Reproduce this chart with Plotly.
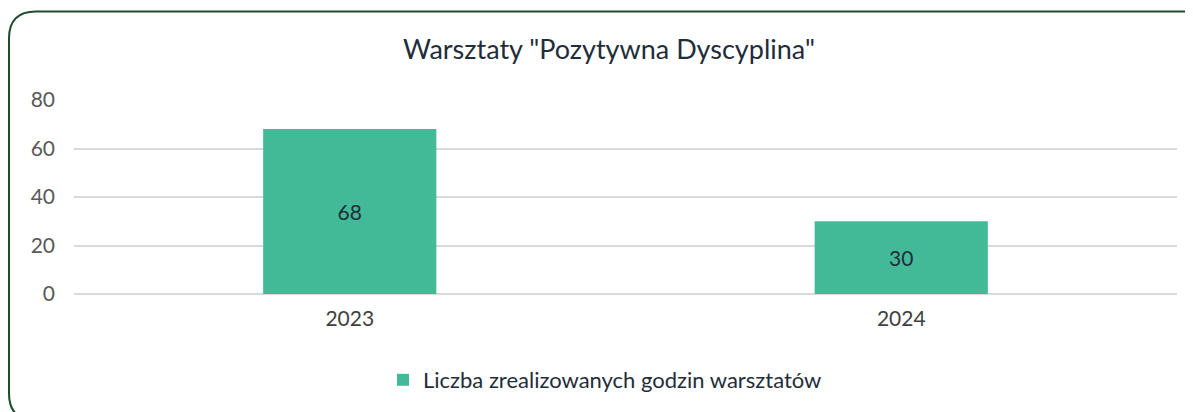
import plotly.graph_objects as go

categories = ["2023", "2024"]
values = [68, 30]
series_name = "Liczba zrealizowanych godzin warsztatów"
title_text = 'Warsztaty "Pozytywna Dyscyplina"'

OFF = 8  # page body margin
W, H = 1193 - OFF, 412 - OFF
L, T = 74 - OFF, 100 - OFF
R = W - (1177 - OFF)
B = H - (295 - OFF)
PW, PH = W - L - R, H - T - B

def px(x):
    # page pixel -> paper
    return (x - OFF - L) / PW

def py(y):
    return (H - B - (y - OFF)) / PH

FONT = "Lato, 'Open Sans', sans-serif"

fig = go.Figure()
fig.add_trace(go.Bar(
    x=categories, y=values, name=series_name,
    marker=dict(color="#43BA97", line=dict(width=0)),
    text=[str(v) for v in values], textposition="inside",
    insidetextanchor="middle",
    textfont=dict(family=FONT, size=21, color="#1F2D3A"),
    width=0.314,
))

# rounded border
x0, y0, x1, y1, r = 9, 11, 1214, 422, 27
path = (f"M {px(x0)},{py(y0 + r)} "
        f"Q {px(x0)},{py(y0)} {px(x0 + r)},{py(y0)} "
        f"L {px(x1 - r)},{py(y0)} "
        f"Q {px(x1)},{py(y0)} {px(x1)},{py(y0 + r)} "
        f"L {px(x1)},{py(y1 - r)} "
        f"Q {px(x1)},{py(y1)} {px(x1 - r)},{py(y1)} "
        f"L {px(x0 + r)},{py(y1)} "
        f"Q {px(x0)},{py(y1)} {px(x0)},{py(y1 - r)} Z")
fig.add_shape(type="path", path=path, xref="paper", yref="paper",
              line=dict(color="#1E4D2B", width=2), fillcolor="rgba(0,0,0,0)",
              layer="above")

fig.update_layout(
    width=W, height=H,
    margin=dict(l=L, r=R, t=T, b=B, pad=0),
    paper_bgcolor="white", plot_bgcolor="white",
    title=dict(text=title_text, x=(609 - OFF) / W, xanchor="center",
               y=1 - (50 - OFF) / H, yanchor="middle",
               font=dict(family=FONT, size=27, color="#1F2D3A")),
    font=dict(family=FONT, color="#595959"),
    showlegend=True,
    legend=dict(orientation="h", x=px(383), xanchor="left", y=py(380), yanchor="middle",
                font=dict(family=FONT, size=22, color="#1F2D3A"),
                itemwidth=30),
    xaxis=dict(showgrid=False, showline=False, ticks="", ticklabelstandoff=10,
               tickfont=dict(family=FONT, size=21, color="#404040")),
    yaxis=dict(range=[0, 80], dtick=20, showgrid=True, gridcolor="#D9D9D9",
               gridwidth=1.5, zeroline=True, zerolinecolor="#D9D9D9", zerolinewidth=1.5,
               showline=False, ticks="", ticklabelstandoff=18,
               tickfont=dict(family=FONT, size=21, color="#595959")),
    bargap=0.686,
)

fig.write_html("out.html")
